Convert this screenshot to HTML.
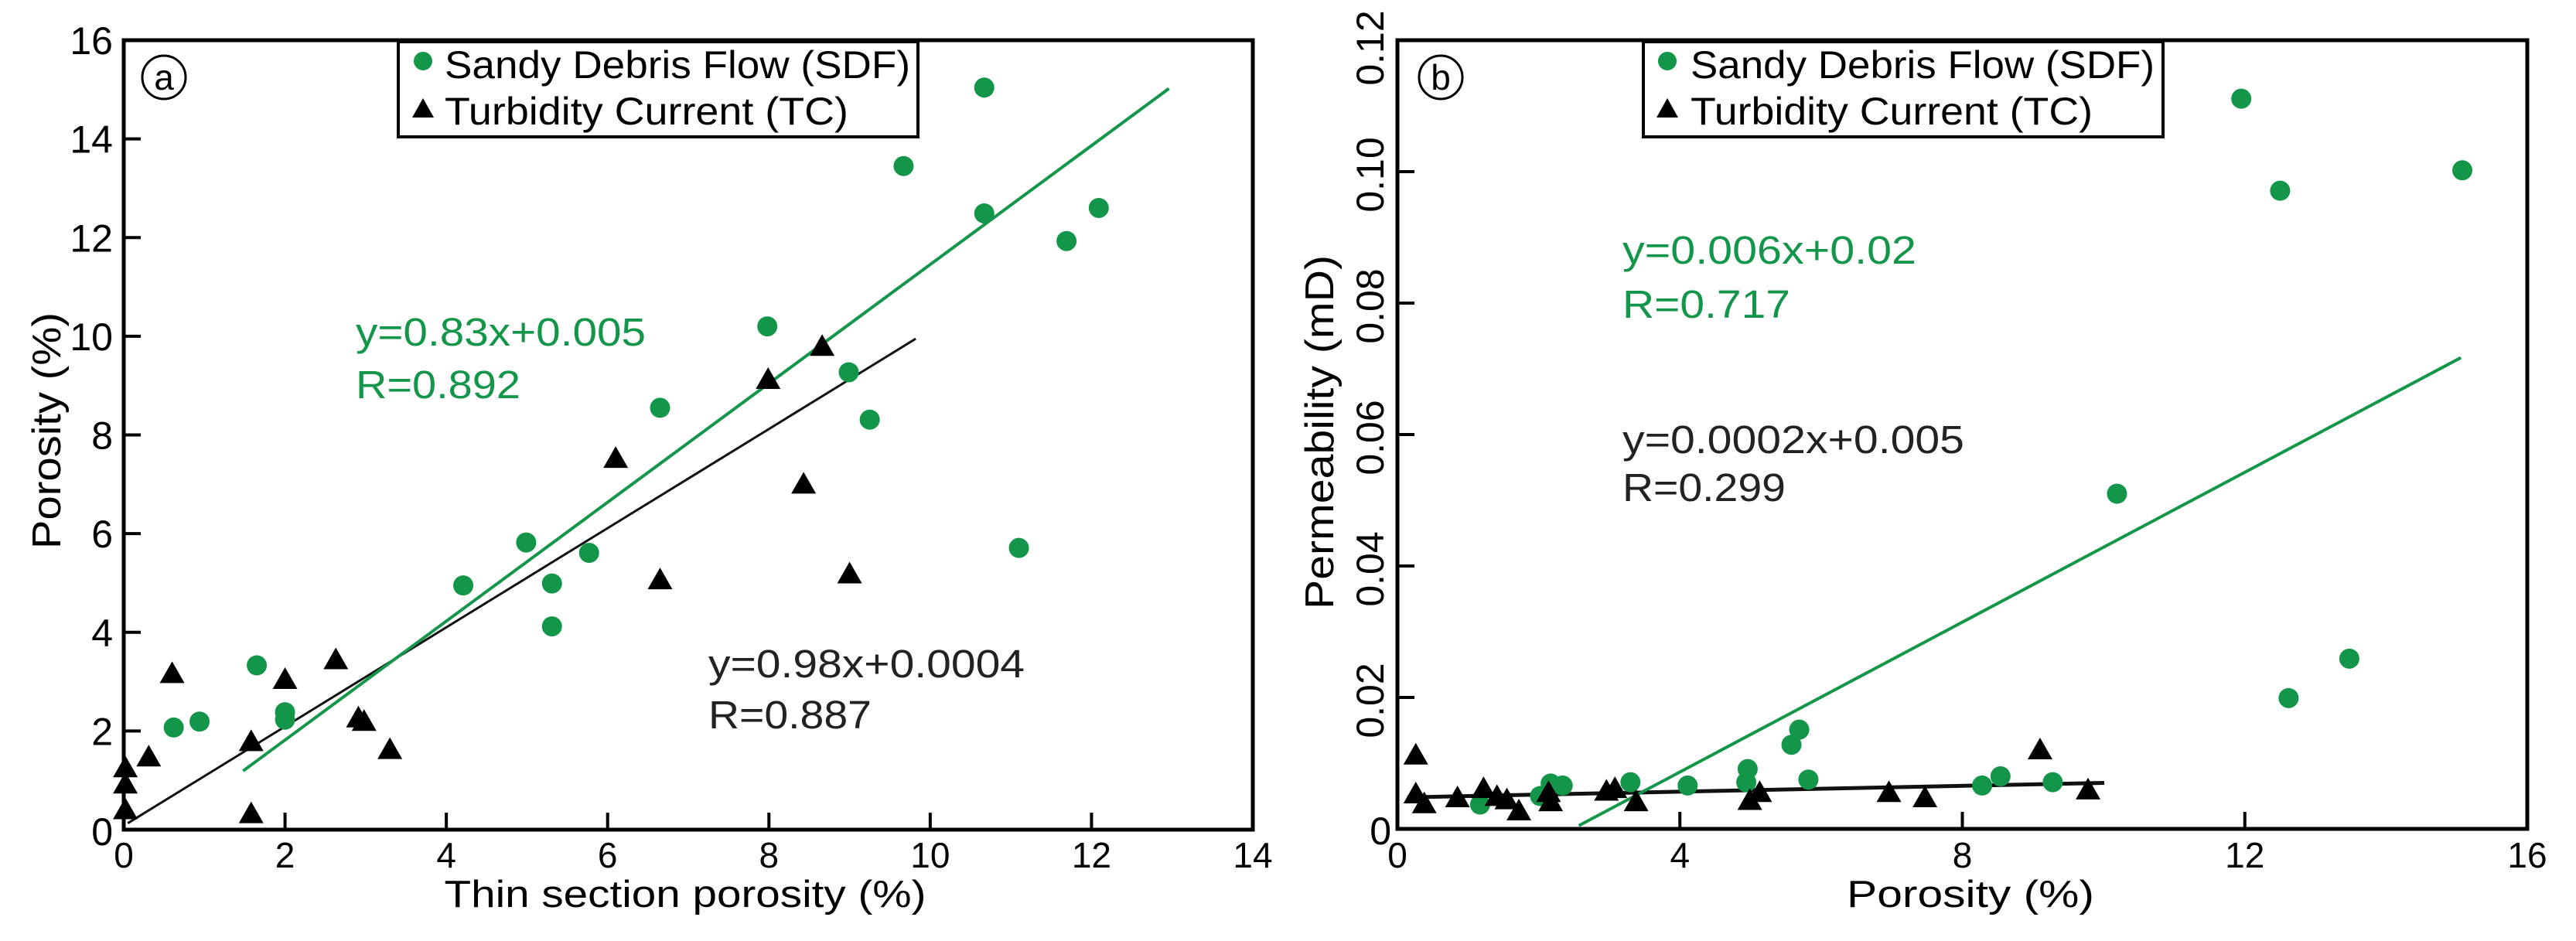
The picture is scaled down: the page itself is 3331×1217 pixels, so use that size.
<!DOCTYPE html>
<html><head><meta charset="utf-8"><style>
html,body{margin:0;padding:0;background:#fff}
svg{display:block}
text{font-family:"Liberation Sans",Arial,sans-serif}
</style></head><body>
<svg id="fig" xmlns="http://www.w3.org/2000/svg" width="3331" height="1217" viewBox="0 0 3331 1217"></svg>
<script>
// ---- Panel a data ----
const aSdfX = [10.67,9.67,10.67,12.09,11.69,7.98,8.99,9.25,6.65,4.99,5.77,5.31,5.31,4.21,11.1,1.65,2.0,2.0,0.94,0.62];
const aSdfY = [15.04,13.45,12.49,12.6,11.93,10.2,9.27,8.31,8.55,5.82,5.61,4.99,4.12,4.95,5.71,3.33,2.38,2.23,2.19,2.07];
const aTcX = [0.02,0.02,0.02,0.31,0.6,1.58,1.58,2.0,2.63,2.91,2.98,3.3,6.1,6.65,7.99,8.66,8.43,9.0];
const aTcY = [1.25,0.92,0.4,1.47,3.16,1.78,0.32,3.04,3.44,2.26,2.19,1.62,7.52,5.06,9.12,9.79,7.0,5.18];
const aSdfFit = [[1.48,1.19],[12.96,15.02]];
const aTcFit = [[0.05,0.13],[9.82,9.95]];
const aXTicks = [0,2,4,6,8,10,12,14];
const aYTicks = [0,2,4,6,8,10,12,14,16];
// ---- Panel b data ----
const bSdfX = [11.95,12.5,15.08,10.19,13.48,12.62,5.69,5.58,4.96,4.94,5.82,8.54,8.28,9.28,4.11,3.30,2.17,2.34,1.17,2.02];
const bSdfY = [0.1111,0.0971,0.1002,0.0510,0.0259,0.0199,0.0151,0.0128,0.0091,0.0071,0.0075,0.0080,0.0066,0.0071,0.0066,0.0071,0.0069,0.0066,0.0037,0.0050];
const bTcX = [0.26,0.26,0.38,0.85,1.22,1.41,1.55,1.72,2.14,2.17,2.96,3.08,3.38,4.99,5.13,6.96,7.47,9.1,9.78];
const bTcY = [0.0112,0.0053,0.0038,0.0047,0.0061,0.0049,0.0044,0.0027,0.0055,0.0041,0.0057,0.0061,0.0041,0.0043,0.0055,0.0055,0.0047,0.0120,0.0059];
const bSdfFit = [[2.57,0.0005],[15.06,0.0717]];
const bTcFit = [[0.14,0.0048],[10.01,0.0070]];
const bXTicks = [0,4,8,12,16];
const bYTicks = [0,0.02,0.04,0.06,0.08,0.10,0.12];
const bYTickLabels = ["0","0.02","0.04","0.06","0.08","0.10","0.12"];

const NS="http://www.w3.org/2000/svg";
const svg=document.getElementById('fig');
const GREEN="#13964a";
function mk(tag,attrs,parent){const e=document.createElementNS(NS,tag);for(const k in attrs)e.setAttribute(k,attrs[k]);(parent||svg).appendChild(e);return e;}
function txt(s,attrs,parent){const e=mk('text',attrs,parent);e.textContent=s;return e;}

function panel(cfg){
  const g=mk('g',{});
  
  
  const sx=v=>cfg.x0+(v-cfg.xmin)/(cfg.xmax-cfg.xmin)*(cfg.x1-cfg.x0);
  const sy=v=>cfg.y0-(v-cfg.ymin)/(cfg.ymax-cfg.ymin)*(cfg.y0-cfg.y1);
  // ticks
  cfg.xTicks.forEach((t,i)=>{
    if(i>0&&i<cfg.xTicks.length-1){const l=mk('line',{x1:sx(t),x2:sx(t),y1:cfg.y0,y2:cfg.y0-22,stroke:'#000','stroke-width':4},g);
      }
    const tl=txt(String(t),{x:sx(t),y:1122,'font-size':46,'text-anchor':'middle'},g);
    
  });
  cfg.yTicks.forEach((t,i)=>{
    if(i>0&&i<cfg.yTicks.length-1){const l=mk('line',{x1:cfg.x0,x2:cfg.x0+22,y1:sy(t),y2:sy(t),stroke:'#000','stroke-width':4},g);
      }
    let tl;
    if(cfg.rotY && i>0){
      tl=txt(cfg.yLabels[i],{x:0,y:0,'font-size':50,'text-anchor':'middle',transform:`translate(${cfg.x0-18},${sy(t)+(i==cfg.yTicks.length-1?10:4)}) rotate(-90)`},g);
    } else {
      tl=txt(cfg.yLabels?cfg.yLabels[i]:String(t),{x:cfg.x0-14,y:sy(t)+18+(i==0?2:0),'font-size':50,'text-anchor':'end'},g);
      if(cfg.rotY){tl.setAttribute('x',cfg.x0-8);}
    }
    
  });
  // fit lines
  const f1=mk('line',{x1:sx(cfg.tcFit[0][0]),y1:sy(cfg.tcFit[0][1]),x2:sx(cfg.tcFit[1][0]),y2:sy(cfg.tcFit[1][1]),stroke:'#111','stroke-width':cfg.tcW},g);
  
  const f2=mk('line',{x1:sx(cfg.sdfFit[0][0]),y1:sy(cfg.sdfFit[0][1]),x2:sx(cfg.sdfFit[1][0]),y2:sy(cfg.sdfFit[1][1]),stroke:GREEN,'stroke-width':4},g);
  
  // points
  cfg.sdfX.forEach((x,i)=>{
    const c=mk('ellipse',{cx:sx(x),cy:sy(cfg.sdfY[i]),rx:13,ry:13,fill:GREEN},g);
    
  });
  cfg.tcX.forEach((x,i)=>{
    const cx=sx(x),cy=sy(cfg.tcY[i]);
    const p=mk('polygon',{points:`${cx},${cy-16} ${cx-16},${cy+12} ${cx+16},${cy+12}`,fill:'#000'},g);
    
  });
  // frame
  const fr=mk('rect',{x:cfg.x0,y:cfg.y1,width:cfg.x1-cfg.x0,height:cfg.y0-cfg.y1,fill:'none',stroke:'#000','stroke-width':5},g);
  
  return g;
}

const ga=panel({name:'panel-a',x0:160,x1:1620,y0:1073,y1:52,xmin:0,xmax:14,ymin:0,ymax:16,
  xTicks:aXTicks,yTicks:aYTicks,sdfX:aSdfX,sdfY:aSdfY,tcX:aTcX,tcY:aTcY,sdfFit:aSdfFit,tcFit:aTcFit,tcW:3});
const gb=panel({name:'panel-b',x0:1807,x1:3268,y0:1072,y1:52,xmin:0,xmax:16,ymin:0,ymax:0.12,
  xTicks:bXTicks,yTicks:bYTicks,yLabels:bYTickLabels,rotY:true,sdfX:bSdfX,sdfY:bSdfY,tcX:bTcX,tcY:bTcY,sdfFit:bSdfFit,tcFit:bTcFit,tcW:5});
</script>
<svg style="position:absolute;left:0;top:0" xmlns="http://www.w3.org/2000/svg" width="3331" height="1217" viewBox="0 0 3331 1217">
  <g font-family="Liberation Sans, Arial, sans-serif">
    <!-- panel a labels -->
    <g>
      <circle cx="212" cy="100" r="28" fill="none" stroke="#000" stroke-width="3"/>
      <text x="212" y="116" font-size="46" text-anchor="middle">a</text>
    </g>
    <g>
      <rect x="515" y="54" width="672" height="123" fill="#fff" stroke="#000" stroke-width="4"/>
      <circle cx="547" cy="79" r="12" fill="#13964a"/>
      <text x="575" y="101" font-size="50" textLength="602" lengthAdjust="spacingAndGlyphs">Sandy Debris Flow (SDF)</text>
      <polygon points="547,127 533,152 561,152" fill="#000"/>
      <text x="575" y="161" font-size="50" textLength="522" lengthAdjust="spacingAndGlyphs">Turbidity Current (TC)</text>
    </g>
    <text x="460" y="447" font-size="51" fill="#13964a" textLength="375" lengthAdjust="spacingAndGlyphs">y=0.83x+0.005</text>
    <text x="460" y="515" font-size="51" fill="#13964a" textLength="213" lengthAdjust="spacingAndGlyphs">R=0.892</text>
    <text x="916" y="876" font-size="51" fill="#222" textLength="409" lengthAdjust="spacingAndGlyphs">y=0.98x+0.0004</text>
    <text x="916" y="942" font-size="51" fill="#222" textLength="211" lengthAdjust="spacingAndGlyphs">R=0.887</text>
    <text x="886" y="1173" font-size="49" text-anchor="middle" textLength="623" lengthAdjust="spacingAndGlyphs">Thin section porosity (%)</text>
    <text transform="translate(78,557) rotate(-90)" font-size="52" text-anchor="middle" textLength="306" lengthAdjust="spacingAndGlyphs">Porosity (%)</text>

    <!-- panel b labels -->
    <g>
      <circle cx="1863" cy="100" r="28" fill="none" stroke="#000" stroke-width="3"/>
      <text x="1863" y="116" font-size="46" text-anchor="middle">b</text>
    </g>
    <g>
      <rect x="2125" y="54" width="672" height="123" fill="#fff" stroke="#000" stroke-width="4"/>
      <circle cx="2156" cy="79" r="12" fill="#13964a"/>
      <text x="2186" y="101" font-size="50" textLength="600" lengthAdjust="spacingAndGlyphs">Sandy Debris Flow (SDF)</text>
      <polygon points="2156,127 2142,152 2170,152" fill="#000"/>
      <text x="2186" y="161" font-size="50" textLength="520" lengthAdjust="spacingAndGlyphs">Turbidity Current (TC)</text>
    </g>
    <text x="2098" y="341" font-size="51" fill="#13964a" textLength="380" lengthAdjust="spacingAndGlyphs">y=0.006x+0.02</text>
    <text x="2098" y="411" font-size="51" fill="#13964a" textLength="217" lengthAdjust="spacingAndGlyphs">R=0.717</text>
    <text x="2098" y="586" font-size="51" fill="#222" textLength="442" lengthAdjust="spacingAndGlyphs">y=0.0002x+0.005</text>
    <text x="2098" y="648" font-size="51" fill="#222" textLength="211" lengthAdjust="spacingAndGlyphs">R=0.299</text>
    <text x="2548" y="1173" font-size="49" text-anchor="middle" textLength="320" lengthAdjust="spacingAndGlyphs">Porosity  (%)</text>
    <text transform="translate(1724,559) rotate(-90)" font-size="52" text-anchor="middle" textLength="458" lengthAdjust="spacingAndGlyphs">Permeability (mD)</text>
  </g>
</svg>
</body></html>
